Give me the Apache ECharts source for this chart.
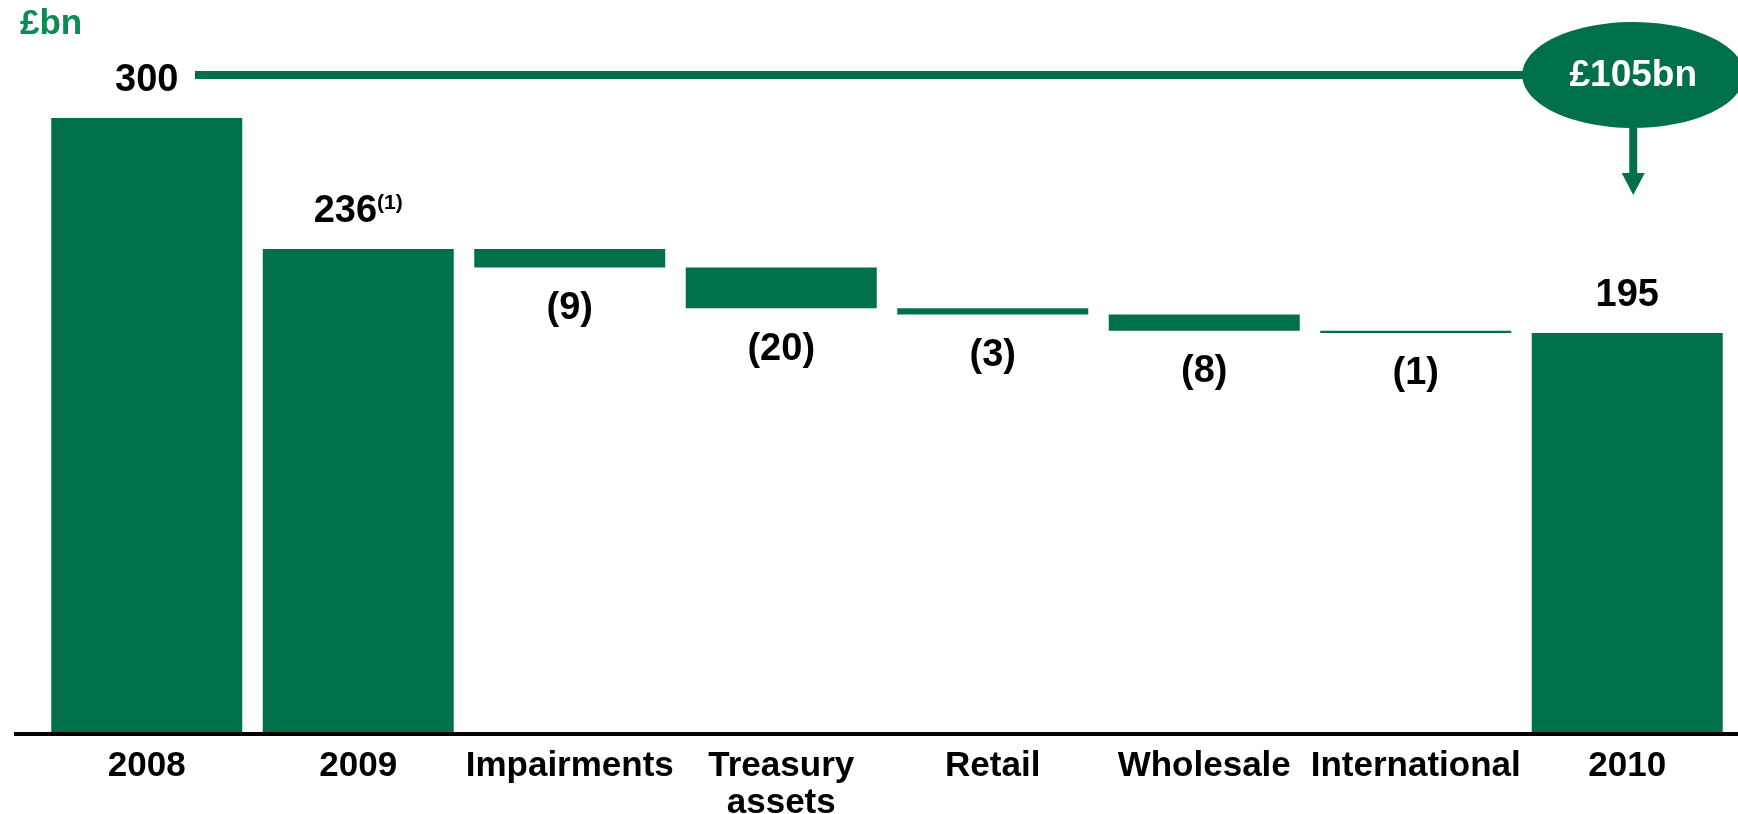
<!DOCTYPE html>
<html>
<head>
<meta charset="utf-8">
<script src="https://cdn.jsdelivr.net/npm/echarts@6/dist/echarts.min.js"></script>
<style>
  html, body { margin: 0; padding: 0; background: #fff; }
  #chart { width: 1738px; height: 814px; }
</style>
</head>
<body>
<div id="chart"></div>
<script>
// balance sheet walk, £bn
const categories = ['2008', '2009', 'Impairments', 'Treasury\nassets', 'Retail', 'Wholesale', 'International', '2010'];
const values = [300, 236, -9, -20, -3, -8, -1, 195];
const isTotal = [true, true, false, false, false, false, false, true];
const notes = ['', '(1)', '', '', '', '', '', ''];
const unitLabel = '£bn';
const reductionLabel = '£105bn';

const GREEN = '#00704a';
const FONT = "'Liberation Sans', Arial, Helvetica, sans-serif";

// waterfall = invisible base + visible step
const base = [];
const step = [];
let running = 0;
values.forEach((v, i) => {
  if (isTotal[i]) {
    base.push(0);
    step.push(v);
    running = v;
  } else {
    running += v;
    base.push(running);
    step.push(-v);
  }
});

const stepData = step.map((v, i) => {
  if (isTotal[i]) {
    return {
      value: v,
      label: {
        position: 'top',
        distance: 18,
        formatter: notes[i] ? '{v|' + v + '}{s|' + notes[i] + '}' : '{v|' + v + '}'
      }
    };
  }
  return {
    value: v,
    label: { position: 'bottom', distance: 22, formatter: '{v|(' + v + ')}' }
  };
});

const chart = echarts.init(document.getElementById('chart'));

chart.setOption({
  animation: false,
  textStyle: { fontFamily: FONT },
  grid: { left: 41, right: 5, top: 118, bottom: 82, outerBoundsMode: 'none' },
  xAxis: {
    type: 'category',
    data: categories,
    axisLine: { show: false },
    axisTick: { show: false },
    axisLabel: {
      interval: 0,
      margin: 16,
      color: '#000',
      fontSize: 35,
      fontWeight: 'bold',
      fontFamily: FONT,
      lineHeight: 37
    }
  },
  yAxis: {
    type: 'value',
    min: 0,
    max: 300,
    show: false,
    splitLine: { show: false }
  },
  series: [
    {
      type: 'bar',
      stack: 'walk',
      data: base,
      barWidth: 191,
      itemStyle: { color: 'transparent' },
      silent: true
    },
    {
      type: 'bar',
      stack: 'walk',
      data: stepData,
      barWidth: 191,
      itemStyle: { color: GREEN },
      label: {
        show: true,
        color: '#000',
        rich: {
          v: { fontSize: 38, fontWeight: 'bold', color: '#000', fontFamily: FONT },
          s: { fontSize: 21, fontWeight: 'bold', color: '#000', fontFamily: FONT, verticalAlign: 'top' }
        }
      }
    }
  ]
});

// annotations placed from the chart's own scales
const y0 = chart.convertToPixel({ yAxisIndex: 0 }, 0);
const yTop = chart.convertToPixel({ yAxisIndex: 0 }, values[0]);
const xLast = chart.convertToPixel({ xAxisIndex: 0 }, categories[categories.length - 1]);
const cy = yTop - 43;
const cx = xLast + 6;
const rx = 111, ry = 53;
const headTop = cy + 98, headTip = cy + 120;

chart.setOption({
  graphic: [
    { type: 'rect', shape: { x: 14, y: y0, width: 1724, height: 4 }, style: { fill: '#000' } },
    { type: 'rect', shape: { x: 195, y: cy - 4, width: cx - rx - 193, height: 8 }, style: { fill: GREEN } },
    { type: 'ellipse', shape: { cx: cx, cy: cy, rx: rx, ry: ry }, style: { fill: GREEN } },
    {
      type: 'text', x: cx, y: cy + 1,
      style: { text: reductionLabel, fill: '#fff', font: 'bold 37px ' + FONT, align: 'center', verticalAlign: 'middle' }
    },
    { type: 'rect', shape: { x: cx - 4, y: cy + ry - 2, width: 8, height: headTop - cy - ry + 3 }, style: { fill: GREEN } },
    {
      type: 'polygon',
      shape: { points: [[cx - 11.5, headTop], [cx + 11.5, headTop], [cx, headTip]] },
      style: { fill: GREEN }
    },
    {
      type: 'text', x: 20, y: 24,
      style: { text: unitLabel, fill: '#0b8b55', font: 'bold 35px ' + FONT, align: 'left', verticalAlign: 'middle' }
    }
  ]
});
</script>
</body>
</html>
